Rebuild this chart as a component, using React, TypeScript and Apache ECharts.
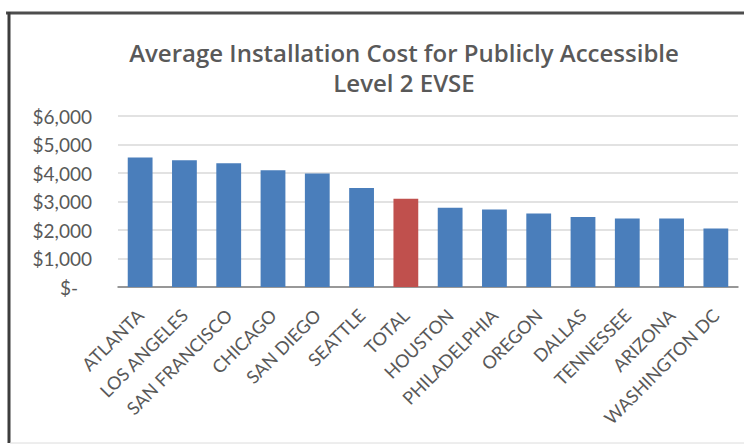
import React, { useEffect, useRef } from "react";
import * as echarts from "echarts";

const categories = [
  "ATLANTA",
  "LOS ANGELES",
  "SAN FRANCISCO",
  "CHICAGO",
  "SAN DIEGO",
  "SEATTLE",
  "TOTAL",
  "HOUSTON",
  "PHILADELPHIA",
  "OREGON",
  "DALLAS",
  "TENNESSEE",
  "ARIZONA",
  "WASHINGTON DC",
];
const costs = [4540, 4450, 4340, 4100, 3980, 3470, 3100, 2780, 2720, 2580, 2460, 2400, 2400, 2050];
const highlighted = "TOTAL";
const titleLines = ["Average Installation Cost for Publicly Accessible", "Level 2 EVSE"];
const yMax = 6000;
const yStep = 1000;

const BLUE = "#4A7EBB";
const RED = "#C0504D";
const GRAY_TEXT = "#595959";

export default function App() {
  const ref = useRef<HTMLDivElement>(null);
  useEffect(() => {
    if (!ref.current) return;
    const chart = echarts.init(ref.current, null, { renderer: "svg" });
    chart.setOption({
      animation: false,
      backgroundColor: "#ffffff",
      grid: { left: 118, right: 6, top: 116, bottom: 159, containLabel: false },
      graphic: [
        { type: "line", shape: { x1: 6, y1: 13, x2: 744, y2: 13 }, style: { stroke: "#4d4d4d", lineWidth: 3 } },
        { type: "line", shape: { x1: 9, y1: 12, x2: 9, y2: 443 }, style: { stroke: "#3d3d3d", lineWidth: 3 } },
        { type: "line", shape: { x1: 10, y1: 443, x2: 744, y2: 443 }, style: { stroke: "#dcdcdc", lineWidth: 1 } },
        {
          type: "text",
          x: 404,
          y: 52,
          style: {
            text: titleLines[0],
            textAlign: "center",
            textVerticalAlign: "middle",
            fill: GRAY_TEXT,
            font: "600 24px 'Open Sans'",
          },
        },
        {
          type: "text",
          x: 404,
          y: 82,
          style: {
            text: titleLines[1],
            textAlign: "center",
            textVerticalAlign: "middle",
            fill: GRAY_TEXT,
            font: "600 24px 'Open Sans'",
          },
        },
      ],
      xAxis: {
        type: "category",
        data: categories,
        axisLine: { lineStyle: { color: "#7f7f7f", width: 1.5 } },
        axisTick: { show: false },
        axisLabel: {
          rotate: 45,
          interval: 0,
          margin: 25,
          color: GRAY_TEXT,
          fontFamily: "Lato",
          fontSize: 18,
        },
      },
      yAxis: {
        type: "value",
        min: 0,
        max: yMax,
        interval: yStep,
        axisLine: { show: false },
        axisTick: { show: false },
        splitLine: { lineStyle: { color: "#d9d9d9", width: 1.5 } },
        axisLabel: {
          margin: 26,
          color: GRAY_TEXT,
          fontFamily: "Lato",
          fontSize: 19,
          formatter: (v: number) =>
            v === 0 ? "{z|$-}" : "$" + v.toLocaleString("en-US"),
          rich: {
            z: { color: GRAY_TEXT, fontFamily: "Lato", fontSize: 19, padding: [0, 14, 0, 0] },
          },
        },
      },
      series: [
        {
          type: "bar",
          barWidth: "56%",
          data: costs.map((v, i) => ({
            value: v,
            itemStyle: { color: categories[i] === highlighted ? RED : BLUE },
          })),
        },
      ],
    });
    return () => chart.dispose();
  }, []);
  return (
    <div
      ref={ref}
      style={{ position: "absolute", left: 0, top: 0, width: 744, height: 446 }}
    />
  );
}
